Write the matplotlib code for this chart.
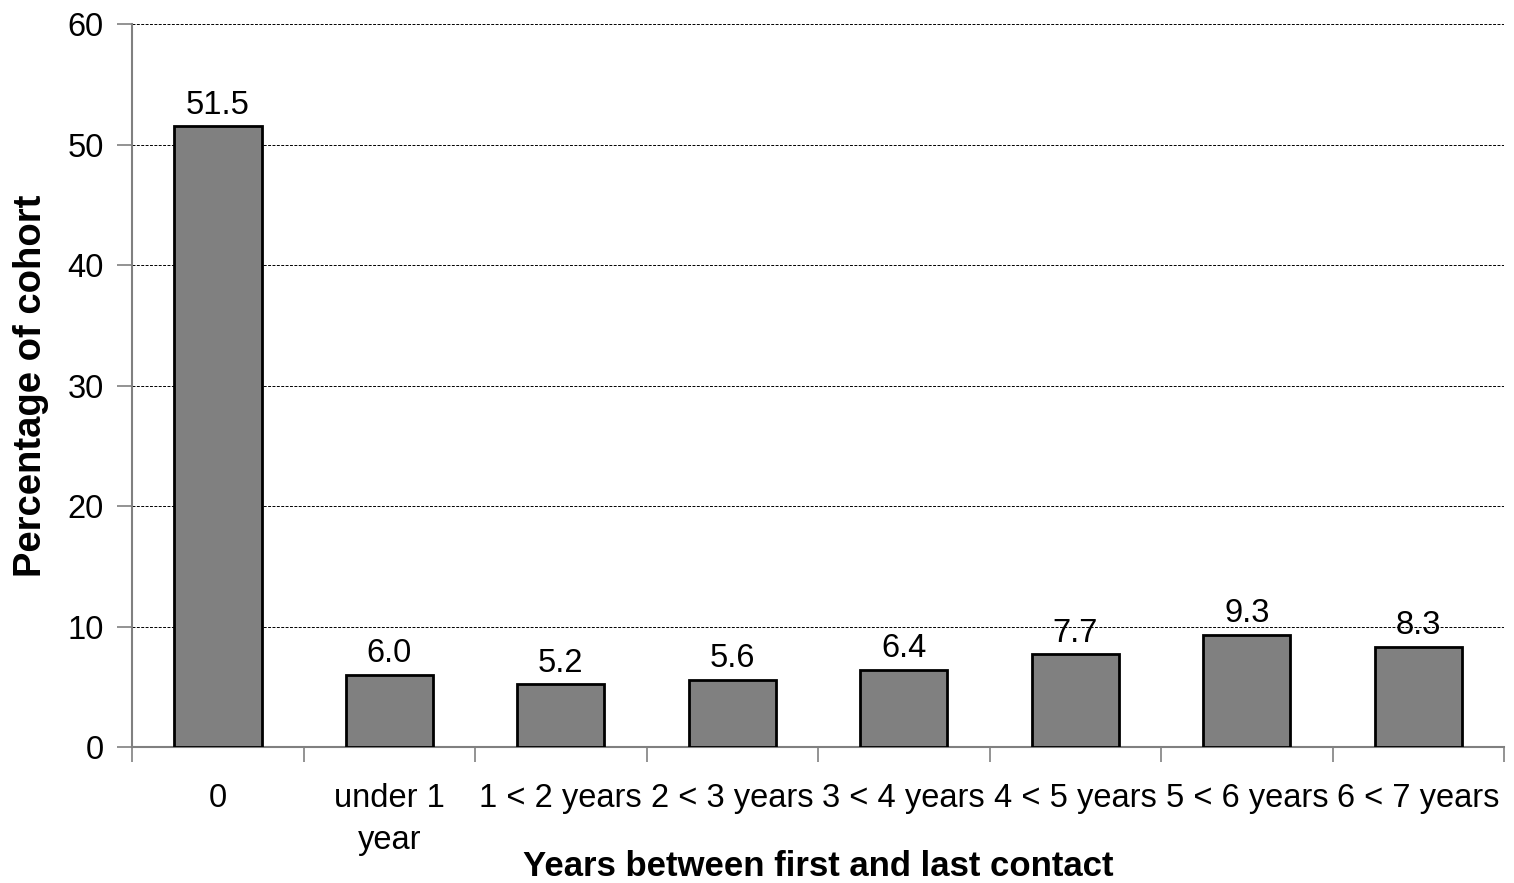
import matplotlib
matplotlib.use("Agg")
from matplotlib import pyplot as plt
from matplotlib.ticker import FixedLocator, NullFormatter
import numpy as np

categories = ["0", "under 1\nyear", "1 < 2 years", "2 < 3 years", "3 < 4 years",
              "4 < 5 years", "5 < 6 years", "6 < 7 years"]
percent = [51.5, 6.0, 5.2, 5.6, 6.4, 7.7, 9.3, 8.3]
y_ticks = [0, 10, 20, 30, 40, 50, 60]

plt.rcParams["font.family"] = ["Liberation Sans", "DejaVu Sans"]

fig = plt.figure(figsize=(15.14, 8.83), dpi=100)
ax = fig.add_axes([0.0872, 0.154, 0.9062, 0.8188])

x = np.arange(len(categories))
bars = ax.bar(x, percent, width=0.51, color="#808080", edgecolor="black",
              linewidth=2, zorder=3)

for rect, val in zip(bars, percent):
    ax.annotate(f"{val:.1f}", (rect.get_x() + rect.get_width() / 2, val),
                xytext=(0, 4), textcoords="offset points",
                ha="center", va="bottom", fontsize=23.5)

ax.set_xlim(-0.5, len(categories) - 0.5)
ax.set_ylim(0, 60)
ax.set_yticks(y_ticks)
ax.yaxis.grid(True, color="black", linestyle=(0, (3, 1.5)), linewidth=0.7)
ax.set_axisbelow(True)

# category labels at bar centres, ticks on the boundaries
ax.xaxis.set_major_locator(FixedLocator(np.arange(-0.5, len(categories), 1.0)))
ax.xaxis.set_major_formatter(NullFormatter())
ax.xaxis.set_minor_locator(FixedLocator(x))
ax.set_xticklabels(categories, minor=True, linespacing=1.45)
ax.tick_params(axis="x", which="major", length=11, width=1.2, color="#808080")
ax.tick_params(axis="x", which="minor", length=0, pad=26, labelsize=23.5)
ax.tick_params(axis="y", length=11, width=1.2, color="#808080", labelsize=23.5, pad=9.5)

for side in ["top", "right"]:
    ax.spines[side].set_visible(False)
for side in ["left", "bottom"]:
    ax.spines[side].set_color("#808080")
    ax.spines[side].set_linewidth(1.5)

ax.set_xlabel("Years between first and last contact", fontsize=25,
              fontweight="bold", labelpad=-4)
ax.set_ylabel("Percentage of cohort", fontsize=27.5, fontweight="bold", labelpad=13)

fig.savefig("out.png", dpi=100)
